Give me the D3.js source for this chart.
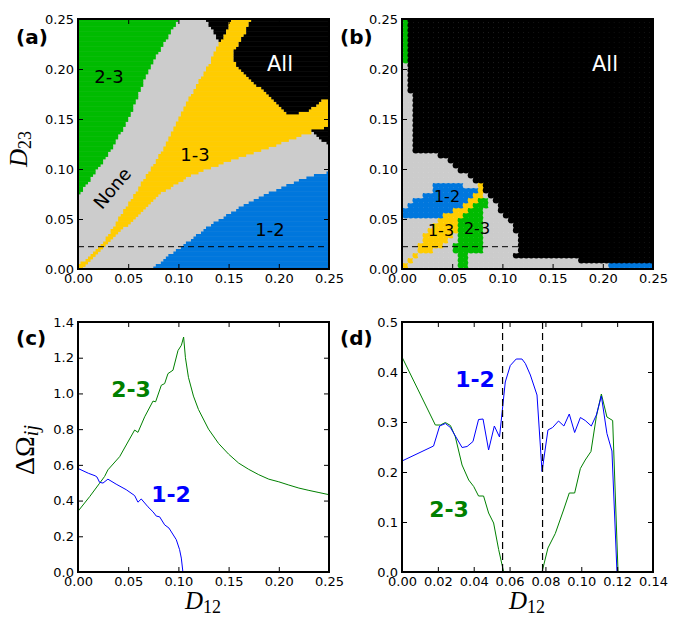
<!DOCTYPE html>
<html>
<head>
<meta charset="utf-8">
<script src="https://cdn.jsdelivr.net/npm/d3@7"></script>
<style>
  body { margin: 0; background: #fff; }
  text { font-family: "DejaVu Sans", sans-serif; }
</style>
</head>
<body>
<svg id="fig" width="681" height="619"></svg>
<script>
// ---- region boundaries, as [D12, D23] vertices ----
var allA = [[0.1726,0.26],[0.1726,0.25],[0.166,0.2356],[0.154,0.2156],[0.1577,0.2023],[0.184,0.179],[0.2108,0.154],[0.2307,0.159],[0.2456,0.1706],[0.26,0.172],[0.26,0.26]];
var allBlobA = [[0.127,0.26],[0.127,0.25],[0.135,0.238],[0.141,0.227],[0.147,0.235],[0.152,0.25],[0.152,0.26]];
var allSpeckA = [[0.231,0.142],[0.24,0.139],[0.26,0.147],[0.26,0.124],[0.245,0.127],[0.236,0.134]];
var pair23A = [[-0.01,0.073],[0,0.073],[0.029,0.113],[0.050,0.149],[0.070,0.199],[0.100,0.25],[0.103,0.26],[-0.01,0.26]];
var pair13A = [[0,0],[0.004,0],[0.03,0.026],[0.048,0.043],[0.0647,0.0596],[0.083,0.0763],[0.111,0.093],[0.154,0.1096],[0.197,0.124],[0.221,0.133],[0.26,0.144],[0.26,0.26],[0.152,0.26],[0.147,0.235],[0.141,0.227],[0.131,0.2056],[0.1095,0.169],[0.088,0.125],[0.068,0.093],[0.025,0.026],[0,0.003]];
var pair12A = [[0.073,-0.01],[0.073,0],[0.0946,0.0163],[0.108,0.026],[0.131,0.043],[0.1577,0.0596],[0.191,0.0763],[0.2307,0.093],[0.26,0.099],[0.26,-0.01]];

// ---- region boundaries ----
var allB = [[0.006,0.26],[0.006,0.176],[0.011,0.176],[0.011,0.117],[0.018,0.116],[0.0315,0.116],[0.0415,0.111],[0.0514,0.106],[0.0614,0.0957],[0.0697,0.089],[0.078,0.0806],[0.0863,0.0723],[0.0946,0.064],[0.1012,0.0556],[0.1062,0.049],[0.1112,0.0406],[0.1145,0.0323],[0.1178,0.019],[0.1128,0.0173],[0.110,0.011],[0.178,0.011],[0.178,0.006],[0.26,0.006],[0.26,0.26]];
var pair23Btop = [[-0.01,0.206],[0.006,0.206],[0.006,0.26],[-0.01,0.26]];
var pair23B = [[0.058,-0.01],[0.066,-0.01],[0.066,0.012],[0.068,0.014],[0.0797,0.019],[0.083,0.029],[0.084,0.0726],[0.082,0.076],[0.078,0.071],[0.073,0.0643],[0.0647,0.0576],[0.058,0.049],[0.058,0.0326],[0.0514,0.026],[0.0514,0.016],[0.0564,0.0126]];
var pair13B = [[-0.003,-0.006],[0.02,0.017],[0.035,0.019],[0.046,0.027],[0.056,0.038],[0.057,0.05],[0.066,0.058],[0.073,0.066],[0.082,0.076],[0.082,0.084],[0.077,0.084],[0.07,0.072],[0.06,0.064],[0.045,0.055],[0.035,0.047],[0.026,0.038],[0.02,0.029],[0.017,0.021],[-0.006,-0.003]];
var pair12B = [[0.031,0.088],[0.059,0.088],[0.06,0.082],[0.081,0.082],[0.081,0.077],[0.07,0.072],[0.06,0.064],[0.045,0.055],[0.035,0.05],[0.025,0.05],[0.012,0.05],[0.01,0.052],[-0.01,0.052],[-0.01,0.063],[0.01,0.064],[0.012,0.07],[0.02,0.07],[0.022,0.076],[0.03,0.077]];
var pair12Bedge = [[0.206,-0.01],[0.26,-0.01],[0.26,0.006],[0.206,0.006]];

// ---- curves, [D12, dOmega] ----
var c23 = [[0,0.34],[0.0116,0.422],[0.0215,0.497],[0.0265,0.535],[0.0298,0.572],[0.0415,0.646],[0.0564,0.795],[0.0597,0.782],[0.0664,0.869],[0.0747,0.957],[0.0773,0.953],[0.083,1.046],[0.0863,1.055],[0.0896,1.111],[0.0946,1.13],[0.0996,1.24],[0.103,1.27],[0.1052,1.316],[0.107,1.2],[0.11,1.09],[0.115,0.985],[0.12,0.91],[0.13,0.80],[0.14,0.72],[0.15,0.66],[0.16,0.61],[0.17,0.575],[0.18,0.545],[0.19,0.52],[0.20,0.505],[0.21,0.487],[0.22,0.47],[0.23,0.457],[0.24,0.445],[0.25,0.433]];
var c12 = [[0,0.58],[0.0103,0.553],[0.017,0.539],[0.0189,0.532],[0.0215,0.502],[0.0249,0.498],[0.0298,0.52],[0.038,0.492],[0.048,0.461],[0.0564,0.428],[0.0597,0.391],[0.063,0.409],[0.0697,0.365],[0.0747,0.337],[0.078,0.313],[0.0813,0.309],[0.0863,0.264],[0.0906,0.246],[0.0979,0.181],[0.1012,0.125],[0.1029,0.078],[0.1045,0.0]];
var d12 = [[0,0.222],[0.0176,0.252],[0.021,0.292],[0.0242,0.297],[0.027,0.289],[0.0335,0.249],[0.0363,0.251],[0.0396,0.261],[0.0427,0.305],[0.0452,0.306],[0.0483,0.244],[0.0515,0.292],[0.0544,0.270],[0.0576,0.380],[0.0604,0.413],[0.0637,0.426],[0.0669,0.426],[0.0688,0.417],[0.0716,0.394],[0.0753,0.354],[0.0781,0.201],[0.0814,0.284],[0.084,0.289],[0.0873,0.302],[0.0903,0.292],[0.0933,0.316],[0.0963,0.279],[0.0995,0.309],[0.1022,0.303],[0.1056,0.292],[0.1084,0.314],[0.1112,0.352],[0.1143,0.277],[0.1171,0.242],[0.1199,0.0]];
var d23 = [[0,0.43],[0.0186,0.294],[0.0214,0.294],[0.0242,0.299],[0.027,0.293],[0.0297,0.271],[0.0335,0.214],[0.0372,0.184],[0.040,0.171],[0.0427,0.152],[0.0455,0.152],[0.0483,0.118],[0.0511,0.098],[0.0539,0.045],[0.0567,0.0],[0.0781,0.0],[0.0814,0.048],[0.0855,0.077],[0.0901,0.124],[0.0933,0.158],[0.0963,0.158],[0.0995,0.207],[0.1022,0.224],[0.1054,0.241],[0.1084,0.311],[0.1112,0.356],[0.1143,0.310],[0.1175,0.303],[0.1205,0.0]];

var cutD23 = 0.0223;          // dashed line in (a), (b)
var cutD12 = [0.0561, 0.0784]; // dashed lines in (d)

var ticksMap = [0, 0.05, 0.10, 0.15, 0.20, 0.25];
var ticksCy = [0, 0.2, 0.4, 0.6, 0.8, 1.0, 1.2, 1.4];
var ticksDx = [0, 0.02, 0.04, 0.06, 0.08, 0.10, 0.12, 0.14];
var ticksDy = [0, 0.1, 0.2, 0.3, 0.4, 0.5];

var GREEN = "#00bb00", YELLOW = "#ffcc00", BLUE = "#0077dd", GRAY = "#cccccc";

var W = 251, H = 250;
var svg = d3.select("#fig");
var clipN = 0;

function makePanel(px, py, xDom, yDom) {
  var g = svg.append("g").attr("transform", "translate(" + px + "," + py + ")");
  var id = "clip" + (clipN++);
  g.append("clipPath").attr("id", id).append("rect").attr("width", W).attr("height", H);
  return {
    g: g, clip: "url(#" + id + ")",
    x: d3.scaleLinear().domain(xDom).range([0, W]),
    y: d3.scaleLinear().domain(yDom).range([H, 0])
  };
}

function classify(regions, pt) {
  for (var k = 0; k < regions.length; k++) {
    if (regions[k].polys.some(function (p) { return d3.polygonContains(p, pt); })) return regions[k].color;
  }
  return null;
}

function axes(P, xt, yt, fx, fy) {
  P.g.append("g").attr("transform", "translate(0," + H + ")")
    .call(d3.axisBottom(P.x).tickValues(xt).tickFormat(d3.format(fx)).tickSize(-5).tickPadding(5));
  P.g.append("g").call(d3.axisTop(P.x).tickValues(xt).tickFormat(function () { return ""; }).tickSize(-5));
  P.g.append("g").call(d3.axisLeft(P.y).tickValues(yt).tickFormat(d3.format(fy)).tickSize(-5).tickPadding(4));
  P.g.append("g").attr("transform", "translate(" + W + ",0)")
    .call(d3.axisRight(P.y).tickValues(yt).tickFormat(function () { return ""; }).tickSize(-5));
  P.g.selectAll(".domain").remove();
  P.g.selectAll(".tick line").attr("stroke", "#000");
  P.g.selectAll(".tick text").attr("font-size", 13).attr("font-family", "DejaVu Sans").attr("fill", "#000");
  P.g.append("rect").attr("width", W).attr("height", H)
    .attr("fill", "none").attr("stroke", "#000").attr("stroke-width", 2);
}

function label(x, y, txt, size, color, weight) {
  return svg.append("text").attr("x", x).attr("y", y).attr("text-anchor", "middle")
    .attr("font-size", size).attr("fill", color).attr("font-weight", weight || "normal").text(txt);
}

// ---------- (a) ----------
var A = makePanel(78, 19, [0, 0.25], [0, 0.25]);
var regionsA = [
  {color: "#000", polys: [allA, allBlobA, allSpeckA]},
  {color: GREEN, polys: [pair23A]},
  {color: YELLOW, polys: [pair13A]},
  {color: BLUE, polys: [pair12A]}
];
A.g.append("rect").attr("width", W).attr("height", H).attr("fill", GRAY);
var cellsA = A.g.append("g").attr("clip-path", A.clip);
var nA = 100, stepA = 0.25 / nA;
for (var j = 0; j < nA; j++) {
  var yc = (j + 0.5) * stepA, start = 0;
  var cur = classify(regionsA, [0.5 * stepA, yc]);
  for (var i = 1; i <= nA; i++) {
    var c = i < nA ? classify(regionsA, [(i + 0.5) * stepA, yc]) : "end";
    if (c !== cur) {
      if (cur) {
        cellsA.append("rect")
          .attr("x", A.x(start * stepA)).attr("width", A.x(i * stepA) - A.x(start * stepA))
          .attr("y", A.y((j + 1) * stepA)).attr("height", A.y(j * stepA) - A.y((j + 1) * stepA) + 0.4)
          .attr("fill", cur);
      }
      start = i; cur = c;
    }
  }
}
A.g.append("line").attr("x1", 0).attr("x2", W).attr("y1", A.y(cutD23)).attr("y2", A.y(cutD23))
  .attr("stroke", "#000").attr("stroke-dasharray", "6,4");
axes(A, ticksMap, ticksMap, ".2f", ".2f");

// ---------- (b) ----------
var B = makePanel(402, 19, [0, 0.25], [0, 0.25]);
var regionsB = [
  {color: GREEN, polys: [pair23Btop, pair23B]},
  {color: YELLOW, polys: [pair13B]},
  {color: BLUE, polys: [pair12B, pair12Bedge]},
  {color: "#000", polys: [allB]}
];
B.g.append("rect").attr("width", W).attr("height", H).attr("fill", "#fff");
var dotsB = B.g.append("g").attr("clip-path", B.clip);
var nB = 50, stepB = 0.25 / nB;
var rB = 0.66 * (B.x(stepB) - B.x(0));
for (var jb = 0; jb < nB; jb++) {
  for (var ib = 0; ib < nB; ib++) {
    var pt = [(ib + 0.75) * stepB, (jb + 0.75) * stepB];
    dotsB.append("circle").attr("cx", B.x(pt[0])).attr("cy", B.y(pt[1])).attr("r", rB)
      .attr("fill", classify(regionsB, pt) || GRAY);
  }
}
B.g.append("line").attr("x1", 0).attr("x2", W).attr("y1", B.y(cutD23)).attr("y2", B.y(cutD23))
  .attr("stroke", "#000").attr("stroke-dasharray", "6,4");
axes(B, ticksMap, ticksMap, ".2f", ".2f");

// ---------- (c) ----------
var C = makePanel(78, 322, [0, 0.25], [0, 1.4]);
var lineC = d3.line().x(function (d) { return C.x(d[0]); }).y(function (d) { return C.y(d[1]); });
var gc = C.g.append("g").attr("clip-path", C.clip);
gc.append("path").attr("d", lineC(c23)).attr("fill", "none").attr("stroke", "green").attr("stroke-width", 1);
gc.append("path").attr("d", lineC(c12)).attr("fill", "none").attr("stroke", "blue").attr("stroke-width", 1);
axes(C, ticksMap, ticksCy, ".2f", ".1f");

// ---------- (d) ----------
var D = makePanel(402, 322, [0, 0.14], [0, 0.5]);
var lineD = d3.line().x(function (d) { return D.x(d[0]); }).y(function (d) { return D.y(d[1]); });
var gd = D.g.append("g").attr("clip-path", D.clip);
gd.append("path").attr("d", lineD(d23)).attr("fill", "none").attr("stroke", "green").attr("stroke-width", 1);
gd.append("path").attr("d", lineD(d12)).attr("fill", "none").attr("stroke", "blue").attr("stroke-width", 1);
gd.selectAll("line.cut").data(cutD12).enter().append("line").attr("class", "cut")
  .attr("x1", function (d) { return D.x(d); }).attr("x2", function (d) { return D.x(d); })
  .attr("y1", 0).attr("y2", H).attr("stroke", "#000").attr("stroke-width", 1.2).attr("stroke-dasharray", "7,4");
axes(D, ticksDx, ticksDy, ".2f", ".1f");

// ---------- text ----------
label(109, 83, "2-3", 18, "#000");
label(280, 71, "All", 21, "#fff");
label(195, 161, "1-3", 18, "#000");
label(270, 236, "1-2", 18, "#000");
svg.append("text").attr("transform", "translate(112,188) rotate(-50)").attr("text-anchor", "middle")
  .attr("dominant-baseline", "central").attr("font-size", 18).text("None");

label(605, 71, "All", 21, "#fff");
label(447, 202, "1-2", 16, "#000");
label(441, 236, "1-3", 16, "#000");
label(477, 234, "2-3", 16, "#000");

label(131, 397, "2-3", 22, "green", "bold");
label(171, 502, "1-2", 22, "blue", "bold");
label(475, 387, "1-2", 22, "blue", "bold");
label(449, 517, "2-3", 22, "green", "bold");

[["(a)", 16, 44], ["(b)", 340, 44], ["(c)", 16, 345], ["(d)", 340, 345]].forEach(function (p) {
  svg.append("text").attr("x", p[1]).attr("y", p[2]).attr("font-size", 20).attr("font-weight", "bold").text(p[0]);
});

function mathLabel(transform, main, sub, italicSub, size) {
  var t = svg.append("text").attr("transform", transform).attr("text-anchor", "middle")
    .style("font-family", "'Liberation Serif', serif").attr("font-size", size);
  t.append("tspan").attr("font-style", main === "D" ? "italic" : "normal").text(main);
  t.append("tspan").attr("dy", 4).attr("font-size", size * 0.72).attr("font-style", italicSub ? "italic" : "normal").text(sub);
}
mathLabel("translate(27,149) rotate(-90)", "D", "23", false, 25);
mathLabel("translate(34,450) rotate(-90)", "\u0394\u03a9", "ij", true, 28);
mathLabel("translate(203,609)", "D", "12", false, 25);
mathLabel("translate(527,609)", "D", "12", false, 25);
</script>
</body>
</html>
